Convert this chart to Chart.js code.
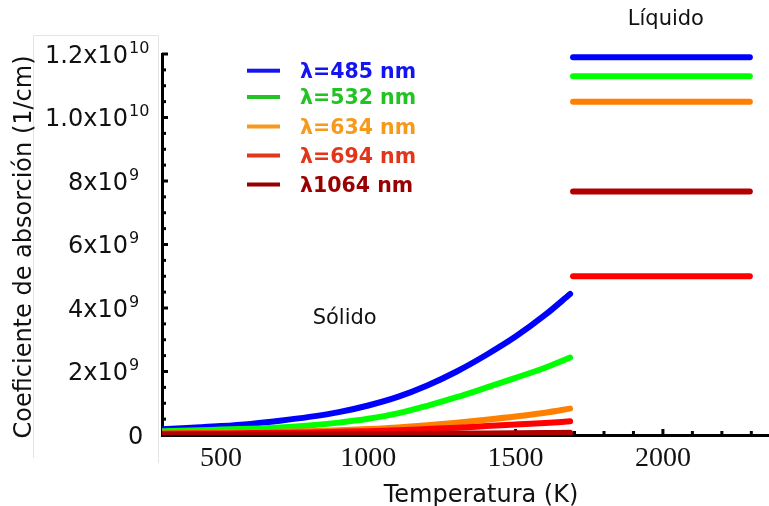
<!DOCTYPE html>
<html>
<head>
<meta charset="utf-8">
<title>Coeficiente de absorción</title>
<script src="https://cdn.jsdelivr.net/npm/chart.js@4.4.1/dist/chart.umd.min.js"></script>
<style>
  html, body { margin: 0; padding: 0; background: #ffffff; }
  #wrap { position: relative; width: 769px; height: 506px; }
</style>
</head>
<body>
<div id="wrap"><canvas id="absorptionChart"></canvas></div>
<script>
// Temperatures (K) for the solid phase and for the liquid phase
const solidTemps = [300, 400, 500, 600, 700, 800, 900, 1000, 1100, 1200, 1300, 1400, 1500, 1600, 1685];
const liquidTemps = [1695, 2295];

// Absorption coefficient, in units of 1e9 1/cm
const solid485 = [0.18, 0.23, 0.28, 0.35, 0.45, 0.57, 0.72, 0.93, 1.20, 1.56, 2.00, 2.52, 3.10, 3.78, 4.44];
const solid532 = [0.12, 0.14, 0.17, 0.20, 0.24, 0.30, 0.39, 0.51, 0.68, 0.92, 1.19, 1.49, 1.80, 2.12, 2.44];
const solid634 = [0.05, 0.06, 0.07, 0.08, 0.10, 0.12, 0.15, 0.19, 0.24, 0.31, 0.39, 0.48, 0.58, 0.70, 0.83];
const solid694 = [0.04, 0.045, 0.05, 0.06, 0.07, 0.08, 0.10, 0.12, 0.15, 0.19, 0.23, 0.28, 0.33, 0.38, 0.43];
const solid1064 = [0.01, 0.012, 0.014, 0.016, 0.019, 0.022, 0.026, 0.03, 0.035, 0.04, 0.045, 0.05, 0.056, 0.063, 0.07];

const liquid485 = [11.9, 11.9];
const liquid532 = [11.3, 11.3];
const liquid634 = [10.5, 10.5];
const liquid694 = [5.0, 5.0];
const liquid1064 = [7.67, 7.67];

const legendLabels = ["λ=485 nm", "λ=532 nm", "λ=634 nm", "λ=694 nm", "λ1064 nm"];
const xTicks = [500, 1000, 1500, 2000];
const yTicks = [0, 2, 4, 6, 8, 10, 12];

const LINE_COLORS = ["#0000ff", "#00ff00", "#ff8000", "#ff0000", "#b00000"];
const LEGEND_COLORS = ["#1414f0", "#22c322", "#f59a1c", "#e2361a", "#990000"];

function toPoints(temps, values) {
  return temps.map(function (t, i) {
    return { x: t, y: values[i] };
  });
}

function makeDataset(label, temps, values, colorIndex) {
  return {
    label: label,
    data: toPoints(temps, values),
    showLine: true,
    borderColor: LINE_COLORS[colorIndex],
    backgroundColor: LINE_COLORS[colorIndex],
    borderWidth: 6,
    borderCapStyle: "round",
    borderJoinStyle: "round",
    pointRadius: 0,
    cubicInterpolationMode: "monotone",
    order: 4 - colorIndex
  };
}

const solidSeries = [solid485, solid532, solid634, solid694, solid1064];
const liquidSeries = [liquid485, liquid532, liquid634, liquid694, liquid1064];

const datasets = [];
solidSeries.forEach(function (values, i) {
  datasets.push(makeDataset(legendLabels[i] + " sólido", solidTemps, values, i));
});
liquidSeries.forEach(function (values, i) {
  datasets.push(makeDataset(legendLabels[i] + " líquido", liquidTemps, values, i));
});

const SANS = "'DejaVu Sans', sans-serif";

// axis ticks, labels, legend and region names
const decorPlugin = {
  id: "decor",
  beforeDatasetsDraw(chart) {
    const { ctx, chartArea, scales } = chart;
    const x = scales.x;
    const y = scales.y;

    ctx.save();

    // faint frame behind the y labels
    ctx.strokeStyle = "#e4e4e4";
    ctx.lineWidth = 1;
    ctx.beginPath();
    ctx.moveTo(33.5, 458);
    ctx.lineTo(33.5, 35.5);
    ctx.lineTo(158.5, 35.5);
    ctx.lineTo(158.5, 463);
    ctx.stroke();

    ctx.fillStyle = "#000000";
    // y ticks: major every 2, minor every 0.5
    for (let v = 0; v <= 12.001; v += 0.5) {
      const py = y.getPixelForValue(v);
      const major = Math.abs(v % 2) < 0.001;
      ctx.fillRect(chartArea.left, py - 1.5, major ? 6 : 4, 3);
    }
    // x ticks: major every 500, minor every 100
    for (let t = 400; t <= 2300; t += 100) {
      const px = x.getPixelForValue(t);
      const major = t % 500 === 0;
      const h = major ? 6 : 4;
      ctx.fillRect(px - 1.5, chartArea.bottom - h, 3, h);
    }

    // x tick labels
    ctx.font = "28px 'Liberation Serif', serif";
    ctx.textAlign = "center";
    ctx.textBaseline = "alphabetic";
    ctx.fillStyle = "#111111";
    xTicks.forEach(function (t) {
      ctx.fillText(String(t), x.getPixelForValue(t), 466);
    });

    // y tick labels with superscript exponents
    const baseRight = 128;
    yTicks.forEach(function (v) {
      const py = y.getPixelForValue(v);
      const baseline = py + 8.5;
      ctx.font = "24px " + SANS;
      if (v === 0) {
        ctx.textAlign = "left";
        ctx.fillText("0", baseRight, baseline);
        return;
      }
      let base;
      let exp;
      if (v < 10) {
        base = v + "x10";
        exp = "9";
      } else {
        base = (v / 10).toFixed(1) + "x10";
        exp = "10";
      }
      ctx.textAlign = "right";
      ctx.fillText(base, baseRight, baseline);
      ctx.font = "16px " + SANS;
      ctx.textAlign = "left";
      ctx.fillText(exp, baseRight + 1, baseline - 10);
    });

    ctx.restore();
  },
  afterDraw(chart) {
    const { ctx, scales } = chart;
    const x = scales.x;
    const y = scales.y;

    ctx.save();
    ctx.fillStyle = "#111111";
    ctx.textBaseline = "alphabetic";

    // axis titles
    ctx.font = "24px " + SANS;
    ctx.textAlign = "center";
    ctx.fillText("Temperatura (K)", 481, 502);

    ctx.save();
    ctx.translate(31, 247);
    ctx.rotate(-Math.PI / 2);
    ctx.fillText("Coeficiente de absorción (1/cm)", 0, 0);
    ctx.restore();

    // phase names
    ctx.font = "21px " + SANS;
    ctx.fillText("Sólido", x.getPixelForValue(920), y.getPixelForValue(3.75) + 8);
    ctx.fillText("Líquido", x.getPixelForValue(2010), y.getPixelForValue(13.17) + 8);

    // legend
    const rows = [70.7, 97, 126.5, 155.5, 184.5];
    ctx.font = "bold 20.5px " + SANS;
    ctx.textAlign = "left";
    legendLabels.forEach(function (label, i) {
      ctx.fillStyle = LEGEND_COLORS[i];
      ctx.fillRect(247, rows[i] - 2, 33, 4);
      ctx.fillText(label, 300, rows[i] + 7);
    });

    ctx.restore();
  }
};

new Chart(document.getElementById("absorptionChart"), {
  type: "scatter",
  data: { datasets: datasets },
  options: {
    responsive: true,
    maintainAspectRatio: false,
    animation: false,
    events: [],
    layout: {
      padding: { top: 54, right: 0, left: 0, bottom: 0 }
    },
    plugins: {
      legend: { display: false },
      tooltip: { enabled: false }
    },
    scales: {
      x: {
        type: "linear",
        min: 300,
        max: 2360,
        grid: { display: false },
        border: { display: true, color: "#000000", width: 3 },
        ticks: { display: false },
        afterFit: function (scale) {
          scale.height = 71;
        }
      },
      y: {
        type: "linear",
        min: 0,
        max: 12,
        grid: { display: false },
        border: { display: true, color: "#000000", width: 3 },
        ticks: { display: false },
        afterFit: function (scale) {
          scale.width = 162;
        }
      }
    }
  },
  plugins: [decorPlugin]
});
</script>
</body>
</html>
